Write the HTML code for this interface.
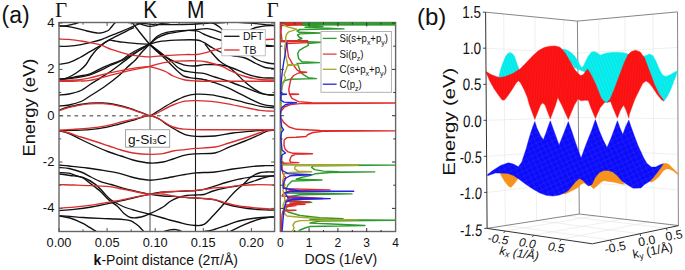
<!DOCTYPE html>
<html><head><meta charset="utf-8"><style>
html,body{margin:0;padding:0;background:#fff;width:685px;height:270px;overflow:hidden;font-family:"Liberation Sans",sans-serif}
</style></head><body>
<svg width="685" height="270" viewBox="0 0 685 270" style="position:absolute;left:0;top:0">
<defs><clipPath id="cpA"><rect x="59" y="22.5" width="215.6" height="209"/></clipPath><clipPath id="cpD"><rect x="280" y="22.5" width="115.6" height="209"/></clipPath></defs>
<g clip-path="url(#cpA)" fill="none" stroke-linejoin="round">
<line x1="150" y1="22" x2="150" y2="232" stroke="#777" stroke-width="1.3"/>
<line x1="195.5" y1="22" x2="195.5" y2="232" stroke="#1a1a1a" stroke-width="1.1"/>
<line x1="59.5" y1="115.7" x2="275" y2="115.7" stroke="#7a7a7a" stroke-width="1.5" stroke-dasharray="3.7,3.8"/>
<path d="M58.6,26.0 C60.0,25.9 64.6,25.9 67.0,25.6 C69.4,25.3 71.0,24.7 73.0,24.2 C75.0,23.7 78.0,22.7 79.0,22.4" stroke="#111" stroke-width="1.35"/>
<path d="M58.6,26.0 C60.0,26.1 63.9,26.0 67.0,26.4 C70.1,26.8 73.7,27.6 77.0,28.4 C80.3,29.2 83.7,30.2 87.0,31.0 C90.3,31.8 94.7,32.7 97.0,33.0 C99.3,33.3 99.7,33.1 101.0,32.9 C102.3,32.7 103.8,32.2 105.0,31.8 C106.2,31.4 107.5,31.0 108.5,30.3 C109.5,29.6 110.1,28.6 111.0,27.5 C111.9,26.4 113.3,24.8 114.0,23.9 C114.7,23.0 115.1,22.6 115.3,22.4" stroke="#111" stroke-width="1.35"/>
<path d="M58.6,46.5 C60.3,46.4 65.3,46.4 69.0,46.1 C72.7,45.8 77.3,45.2 81.0,44.6 C84.7,44.0 87.8,43.1 91.0,42.3 C94.2,41.5 97.5,40.8 100.0,40.0 C102.5,39.2 103.2,38.8 106.1,37.6 C109.0,36.5 113.5,34.6 117.2,33.1 C120.9,31.6 125.0,29.9 128.3,28.5 C131.6,27.1 134.6,25.5 137.2,24.6 C139.8,23.7 142.3,23.5 143.9,23.2 C145.5,22.9 146.5,22.9 147.0,22.9" stroke="#111" stroke-width="1.35"/>
<path d="M58.6,64.4 C60.3,64.1 65.4,63.8 69.0,62.6 C72.6,61.5 76.5,59.3 80.0,57.5 C83.5,55.7 87.3,53.1 90.0,51.6 C92.7,50.1 94.0,49.4 96.0,48.2 C98.0,47.0 100.0,45.7 101.7,44.6 C103.4,43.5 104.6,42.5 106.0,41.8 C107.4,41.1 108.3,40.3 110.0,40.2 C111.7,40.1 113.9,40.9 116.0,41.2 C118.1,41.5 119.3,41.8 122.8,42.2 C126.3,42.6 132.7,43.4 137.2,43.7 C141.7,44.0 147.5,44.1 149.6,44.2" stroke="#111" stroke-width="1.35"/>
<path d="M58.6,79.2 C59.5,79.2 61.8,79.6 64.0,79.0 C66.2,78.4 69.3,77.0 72.0,75.5 C74.7,74.0 77.7,72.0 80.0,70.2 C82.3,68.4 84.2,66.8 86.0,64.5 C87.8,62.2 89.3,58.9 91.0,56.5 C92.7,54.1 94.2,52.1 96.0,50.2 C97.8,48.3 100.0,46.6 101.7,45.2 C103.4,43.8 104.5,42.9 106.0,41.9 C107.5,40.9 108.9,40.0 110.6,39.1 C112.3,38.2 114.1,37.4 116.0,36.4 C117.9,35.4 120.0,34.4 122.0,33.4 C124.0,32.4 126.3,31.2 128.3,30.2 C130.3,29.2 133.1,28.0 134.0,27.6" stroke="#111" stroke-width="1.35"/>
<path d="M128.0,22.5 C130.0,22.6 136.4,22.7 140.0,23.0 C143.6,23.3 146.2,23.9 149.5,24.2 C152.8,24.5 155.8,24.5 160.0,24.6 C164.2,24.7 169.0,24.7 175.0,24.6 C181.0,24.5 190.2,24.3 196.0,24.0 C201.8,23.7 205.2,23.2 210.0,23.0 C214.8,22.8 222.5,22.7 225.0,22.6" stroke="#111" stroke-width="1.35"/>
<path d="M136.0,22.6 C136.7,22.8 138.7,23.3 140.0,23.7 C141.3,24.1 142.4,24.7 144.0,25.1 C145.6,25.6 147.9,26.3 149.8,26.4 C151.8,26.5 154.0,25.9 155.7,25.5 C157.4,25.1 158.4,24.4 160.0,24.0 C161.6,23.6 163.3,23.2 165.0,23.0 C166.7,22.8 169.2,22.7 170.0,22.6" stroke="#111" stroke-width="1.35"/>
<path d="M132.2,22.6 C135.1,26.2 144.3,38.4 149.6,44.2 C154.9,50.0 160.4,54.3 163.9,57.6 C167.4,60.9 168.2,61.9 170.4,64.1 C172.6,66.3 174.8,68.6 176.9,70.6 C179.1,72.5 181.2,74.6 183.3,75.8 C185.5,77.0 187.9,77.3 189.8,77.7 C191.8,78.1 192.6,78.0 195.0,78.3 C197.4,78.6 200.8,78.9 204.1,79.6 C207.4,80.2 213.2,81.8 215.0,82.2" stroke="#111" stroke-width="1.35"/>
<path d="M58.6,79.0 C60.0,78.9 63.9,78.9 67.0,78.5 C70.1,78.1 73.2,77.3 77.0,76.5 C80.8,75.7 86.0,75.3 90.0,73.9 C94.0,72.5 97.3,70.0 101.0,68.3 C104.7,66.6 108.8,65.1 112.2,63.7 C115.6,62.3 118.5,61.6 121.5,60.0 C124.5,58.4 126.8,56.0 130.0,54.0 C133.2,52.0 137.7,49.6 141.0,48.0 C144.3,46.4 148.2,44.8 149.6,44.2" stroke="#111" stroke-width="1.35"/>
<path d="M58.6,79.8 C61.7,79.4 71.8,78.4 77.0,77.6 C82.2,76.8 86.0,76.0 90.0,74.8 C94.0,73.6 97.3,71.9 101.0,70.2 C104.7,68.5 108.5,66.3 112.2,64.6 C115.9,62.9 120.0,61.7 123.3,60.0 C126.6,58.3 128.9,56.4 132.0,54.5 C135.1,52.6 139.1,50.3 142.0,48.6 C144.9,46.9 148.3,44.9 149.6,44.2" stroke="#111" stroke-width="1.35"/>
<path d="M58.6,95.0 C60.3,94.8 65.3,94.8 69.0,94.0 C72.7,93.2 77.5,92.1 81.0,90.5 C84.5,88.9 86.7,86.7 90.0,84.5 C93.3,82.3 97.3,80.0 101.0,77.6 C104.7,75.2 108.5,72.8 112.2,70.2 C115.9,67.6 120.3,64.1 123.3,61.9 C126.3,59.7 127.2,59.0 130.0,57.0 C132.8,55.0 136.7,52.1 140.0,50.0 C143.3,47.9 148.0,45.2 149.6,44.2" stroke="#111" stroke-width="1.35"/>
<path d="M58.6,106.0 C60.3,105.8 65.3,105.8 69.0,105.0 C72.7,104.2 77.5,103.0 81.0,101.5 C84.5,100.0 86.0,98.5 90.0,96.0 C94.0,93.5 99.9,90.0 104.8,86.5 C109.7,83.0 115.9,78.2 119.6,75.0 C123.3,71.8 124.4,69.9 127.0,67.4 C129.6,64.9 132.9,62.6 135.4,60.0 C137.9,57.4 139.6,54.6 142.0,52.0 C144.4,49.4 148.3,45.5 149.6,44.2" stroke="#111" stroke-width="1.35"/>
<path d="M149.6,44.2 C150.9,42.9 154.5,38.2 157.3,36.2 C160.1,34.2 162.5,33.3 166.5,32.4 C170.5,31.5 176.3,30.9 181.3,30.6 C186.3,30.4 192.8,30.3 196.5,30.9 C200.2,31.5 200.9,32.9 203.6,34.0 C206.3,35.1 209.7,36.6 212.8,37.7 C215.9,38.8 217.5,39.5 222.0,40.5 C226.5,41.5 234.0,43.1 240.0,44.0 C246.0,44.9 252.2,45.6 258.0,46.0 C263.8,46.4 271.8,46.2 274.6,46.3" stroke="#111" stroke-width="1.35"/>
<path d="M149.6,44.2 C150.9,43.2 154.5,39.6 157.3,37.9 C160.1,36.2 162.5,35.1 166.5,34.0 C170.5,32.9 176.3,32.0 181.3,31.3 C186.3,30.6 192.2,30.0 196.5,29.6 C200.8,29.2 203.4,28.4 207.0,28.7 C210.6,29.0 214.5,30.2 218.0,31.3 C221.5,32.4 223.5,33.5 228.0,35.0 C232.5,36.5 239.7,38.4 245.0,40.0 C250.3,41.6 255.1,43.5 260.0,44.5 C264.9,45.5 272.2,46.0 274.6,46.3" stroke="#111" stroke-width="1.35"/>
<path d="M149.6,44.2 C151.2,43.8 154.6,42.3 159.0,41.6 C163.4,40.9 169.6,40.5 175.8,40.2 C182.1,39.9 191.9,39.6 196.5,40.0 C201.1,40.4 200.9,41.1 203.6,42.4 C206.3,43.7 209.7,46.3 212.8,48.0 C215.9,49.7 218.8,51.4 222.0,52.6 C225.2,53.9 228.2,54.6 232.0,55.5 C235.8,56.4 241.0,56.7 245.0,58.0 C249.0,59.3 252.7,61.9 256.0,63.5 C259.3,65.1 261.9,66.7 265.0,67.5 C268.1,68.3 273.0,68.4 274.6,68.6" stroke="#111" stroke-width="1.35"/>
<path d="M149.6,44.2 C150.7,45.1 153.8,47.7 156.0,49.5 C158.2,51.3 160.6,53.5 162.6,55.0 C164.6,56.5 166.1,57.2 167.8,58.2 C169.5,59.2 171.1,59.9 173.0,60.8 C174.9,61.7 177.3,62.6 179.5,63.4 C181.7,64.2 183.3,65.0 185.9,65.4 C188.5,65.8 192.0,66.1 195.0,66.0 C198.0,65.9 201.3,65.0 204.1,64.7 C206.9,64.5 208.7,64.4 212.0,64.5 C215.3,64.6 220.7,64.9 224.1,65.5 C227.5,66.1 229.2,66.8 232.5,68.0 C235.8,69.2 240.4,71.5 243.9,72.9 C247.4,74.3 250.4,75.4 253.7,76.2 C257.0,77.0 260.0,77.5 263.5,77.8 C267.0,78.1 272.8,78.0 274.6,78.1" stroke="#111" stroke-width="1.35"/>
<path d="M238.0,22.4 C240.0,22.5 246.7,22.8 250.0,23.0 C253.3,23.2 255.5,23.5 258.0,23.8 C260.5,24.1 262.2,24.3 265.0,24.6 C267.8,24.9 273.0,25.4 274.6,25.6" stroke="#111" stroke-width="1.35"/>
<path d="M250.0,30.0 C251.0,29.6 253.5,28.2 256.0,27.5 C258.5,26.8 261.9,26.1 265.0,25.8 C268.1,25.5 273.0,25.6 274.6,25.6" stroke="#111" stroke-width="1.35"/>
<path d="M212.0,22.4 C213.2,23.2 216.8,24.8 219.5,27.0 C222.2,29.2 224.9,33.8 228.0,35.5 C231.1,37.2 234.7,34.5 237.9,37.2 C241.1,40.0 243.7,48.2 247.0,52.0 C250.3,55.8 254.5,58.2 258.0,60.0 C261.5,61.8 265.2,62.4 268.0,63.0 C270.8,63.6 273.5,63.7 274.6,63.8" stroke="#111" stroke-width="1.35"/>
<path d="M205.0,44.0 C205.9,45.2 207.9,48.2 210.3,51.0 C212.7,53.8 216.4,58.3 219.5,61.0 C222.6,63.7 226.0,65.0 228.7,67.0 C231.4,69.0 233.3,70.6 235.8,72.9 C238.3,75.2 241.2,78.5 243.9,81.0 C246.6,83.5 249.4,85.7 252.1,87.6 C254.8,89.5 257.6,91.3 260.3,92.5 C263.0,93.7 266.0,94.5 268.4,94.9 C270.8,95.3 273.6,95.1 274.6,95.1" stroke="#111" stroke-width="1.35"/>
<path d="M204.1,79.6 C205.8,80.1 210.7,81.4 214.6,82.7 C218.5,84.0 223.2,85.7 227.6,87.6 C231.9,89.5 236.3,91.9 240.7,94.1 C245.0,96.3 249.9,98.8 253.7,100.6 C257.5,102.4 260.0,103.8 263.5,104.7 C267.0,105.7 272.8,106.0 274.6,106.3" stroke="#111" stroke-width="1.35"/>
<path d="M149.6,44.2 C151.0,45.2 155.4,48.5 158.0,50.5 C160.6,52.5 163.1,54.6 165.2,56.3 C167.3,58.0 168.4,58.8 170.4,60.5 C172.4,62.2 174.8,65.0 176.9,66.7 C179.1,68.4 181.2,69.7 183.3,70.6 C185.5,71.5 187.9,71.6 189.8,71.9 C191.8,72.2 192.5,72.4 195.0,72.7 C197.5,73.0 201.5,73.0 204.8,73.7 C208.1,74.4 210.8,75.8 214.6,77.0 C218.4,78.2 223.2,79.5 227.6,81.0 C231.9,82.5 236.3,84.3 240.7,85.9 C245.0,87.5 249.9,89.4 253.7,90.8 C257.5,92.2 260.0,93.4 263.5,94.1 C267.0,94.8 272.8,94.8 274.6,94.9" stroke="#111" stroke-width="1.35"/>
<path d="M58.6,110.3 C59.8,109.9 63.6,108.4 66.0,107.7 C68.3,107.0 70.4,106.5 72.7,106.0 C75.0,105.5 77.2,105.0 80.0,104.5 C82.8,104.0 86.6,103.5 89.3,103.2 C92.0,102.9 93.8,102.8 96.0,102.8 C98.2,102.8 100.5,102.8 102.7,102.9 C104.9,103.0 106.8,103.2 109.0,103.5 C111.2,103.8 113.7,104.2 116.0,104.6 C118.3,105.0 120.4,105.5 122.6,106.1 C124.8,106.7 127.1,107.3 129.3,108.1 C131.5,108.8 133.7,109.8 136.0,110.6 C138.3,111.4 140.7,112.3 143.0,113.1 C145.3,113.9 147.4,115.7 149.6,115.6 C151.8,115.5 153.9,113.5 156.0,112.3 C158.1,111.1 159.2,110.2 162.0,108.5 C164.8,106.8 169.2,104.0 173.0,102.0 C176.8,100.0 181.2,97.6 185.0,96.3 C188.8,95.0 191.6,94.4 196.0,94.2 C200.4,94.0 206.0,94.2 211.3,94.9 C216.6,95.6 222.2,97.0 227.6,98.2 C233.0,99.4 238.4,101.0 243.9,102.3 C249.4,103.6 255.2,105.3 260.3,106.3 C265.4,107.2 272.2,107.7 274.6,108.0" stroke="#111" stroke-width="1.35"/>
<path d="M58.6,130.8 C61.0,130.7 67.6,130.6 72.7,130.4 C77.8,130.2 83.8,130.1 89.3,129.6 C94.8,129.1 100.4,128.5 106.0,127.4 C111.6,126.3 117.7,124.6 122.7,123.2 C127.7,121.8 131.5,120.6 136.0,119.3 C140.5,118.0 145.6,115.6 149.6,115.6 C153.6,115.6 157.3,118.1 160.0,119.5 C162.7,120.9 163.2,122.2 166.0,124.0 C168.8,125.8 173.5,128.6 177.0,130.5 C180.5,132.4 183.8,134.2 187.0,135.2 C190.2,136.2 191.3,136.3 196.0,136.4 C200.7,136.5 208.8,136.6 215.0,136.0 C221.2,135.4 226.7,133.8 233.0,133.0 C239.3,132.2 247.7,131.5 253.0,131.0 C258.3,130.5 261.4,130.4 265.0,130.2 C268.6,130.0 273.0,130.0 274.6,130.0" stroke="#111" stroke-width="1.35"/>
<path d="M58.6,130.6 C60.3,131.1 65.3,132.0 69.0,133.5 C72.7,135.0 76.3,137.2 81.0,139.5 C85.7,141.8 92.3,144.9 97.0,147.0 C101.7,149.1 105.0,150.5 109.0,152.0 C113.0,153.5 117.0,154.7 121.0,156.0 C125.0,157.3 128.2,158.8 133.0,160.0 C137.8,161.2 145.0,162.7 150.0,163.0 C155.0,163.3 159.2,162.7 163.0,162.0 C166.8,161.3 169.3,160.1 173.0,159.0 C176.7,157.9 181.2,156.1 185.0,155.2 C188.8,154.3 191.0,154.2 196.0,153.8 C201.0,153.4 209.5,154.1 215.0,153.0 C220.5,151.9 224.0,149.2 229.0,147.2 C234.0,145.2 240.0,143.0 245.0,141.0 C250.0,139.0 255.3,136.6 259.0,135.0 C262.7,133.4 264.4,132.0 267.0,131.2 C269.6,130.4 273.3,130.4 274.6,130.2" stroke="#111" stroke-width="1.35"/>
<path d="M58.6,165.0 C60.3,165.2 64.3,165.5 69.0,166.0 C73.7,166.5 81.7,167.3 87.0,168.0 C92.3,168.7 95.6,169.1 101.0,170.0 C106.4,170.9 113.7,172.1 119.4,173.4 C125.2,174.7 130.4,176.9 135.5,178.0 C140.6,179.1 145.4,180.1 150.0,180.2 C154.6,180.3 158.7,179.3 163.0,178.6 C167.3,177.9 172.3,176.9 176.0,176.2 C179.7,175.5 181.7,175.1 185.0,174.5 C188.3,173.9 191.0,173.2 196.0,172.8 C201.0,172.4 208.8,172.6 215.0,172.0 C221.2,171.4 226.7,169.9 233.0,169.0 C239.3,168.1 247.7,167.0 253.0,166.4 C258.3,165.8 261.4,165.8 265.0,165.7 C268.6,165.6 273.0,165.6 274.6,165.6" stroke="#111" stroke-width="1.35"/>
<path d="M58.6,167.5 C60.3,167.7 65.3,167.8 69.0,168.5 C72.7,169.2 77.3,170.6 81.0,172.0 C84.7,173.4 87.8,175.4 91.0,177.0 C94.2,178.6 96.7,180.2 100.0,181.4 C103.3,182.7 107.3,183.4 111.0,184.5 C114.7,185.6 118.0,186.7 122.0,187.8 C126.0,188.9 130.1,189.9 134.8,191.0 C139.5,192.1 145.3,193.5 150.0,194.3 C154.7,195.1 159.0,195.7 163.0,196.0 C167.0,196.3 170.0,196.2 174.0,196.4 C178.0,196.7 183.2,197.2 186.8,197.5 C190.4,197.8 192.5,197.8 195.4,198.0 C198.3,198.2 200.7,198.3 204.0,198.6 C207.3,198.9 211.3,199.0 215.0,199.9 C218.7,200.8 222.0,202.8 226.0,204.0 C230.0,205.2 233.8,206.1 238.8,207.0 C243.8,207.9 250.0,208.8 256.0,209.3 C262.0,209.8 271.5,210.0 274.6,210.2" stroke="#111" stroke-width="1.35"/>
<path d="M58.6,172.5 C60.3,172.6 65.9,172.6 69.0,173.2 C72.1,173.8 74.7,175.2 77.0,176.0 C79.3,176.8 81.0,176.9 83.0,178.0 C85.0,179.1 86.2,180.3 89.0,182.5 C91.8,184.7 96.7,188.1 100.0,191.0 C103.3,193.9 105.7,197.1 108.6,199.7 C111.5,202.3 115.0,204.2 117.6,206.5 C120.2,208.8 121.8,211.7 124.0,213.5 C126.2,215.3 127.7,216.9 130.5,217.5 C133.3,218.1 137.8,217.7 141.0,217.0 C144.2,216.3 146.3,215.3 150.0,213.6 C153.7,211.9 159.7,209.0 163.0,207.0 C166.3,205.0 167.1,203.4 169.6,201.8 C172.1,200.2 175.1,198.6 178.0,197.5 C180.9,196.4 183.9,195.8 186.8,195.4 C189.7,195.0 192.5,195.2 195.4,195.0 C198.3,194.8 201.1,195.2 204.0,194.5 C206.9,193.8 209.3,192.1 213.0,191.0 C216.7,189.9 221.7,188.7 226.0,187.8 C230.3,186.9 233.8,186.9 238.8,185.7 C243.8,184.4 251.7,181.7 256.0,180.3 C260.3,178.9 261.5,178.3 264.6,177.5 C267.7,176.7 272.9,175.8 274.6,175.5" stroke="#111" stroke-width="1.35"/>
<path d="M58.6,174.0 C60.5,174.2 65.9,174.9 70.0,175.5 C74.1,176.1 78.7,176.0 83.0,177.5 C87.3,179.0 92.2,182.0 95.7,184.6 C99.2,187.2 101.5,190.5 104.0,193.0 C106.5,195.5 107.8,197.5 110.8,199.7 C113.8,201.9 118.0,204.2 122.0,206.0 C126.0,207.8 130.1,209.0 134.8,210.4 C139.5,211.8 145.3,213.0 150.0,214.3 C154.7,215.6 159.7,217.1 163.0,218.0 C166.3,218.9 167.1,219.3 169.6,220.0 C172.1,220.7 175.1,221.3 178.0,222.0 C180.9,222.7 183.9,223.8 186.8,224.4 C189.7,225.0 192.5,225.5 195.4,225.5 C198.3,225.5 201.1,226.0 204.0,224.4 C206.9,222.8 209.7,219.2 213.0,215.8 C216.3,212.4 220.2,208.0 223.8,204.0 C227.4,200.0 231.3,195.2 234.5,192.0 C237.7,188.8 240.1,187.2 243.0,184.6 C245.9,182.0 249.0,178.4 251.7,176.5 C254.4,174.6 256.6,173.8 259.0,173.0 C261.4,172.2 263.4,172.2 266.0,172.0 C268.6,171.8 273.2,172.0 274.6,172.0" stroke="#111" stroke-width="1.35"/>
<path d="M58.7,210.6 C61.2,210.4 68.5,210.0 74.0,209.4 C79.5,208.8 85.2,208.1 91.4,207.0 C97.6,205.9 105.9,204.1 111.0,203.0 C116.1,201.9 118.0,201.6 122.0,200.7 C126.0,199.8 130.1,198.6 134.8,197.5 C139.5,196.4 145.6,195.2 150.0,194.3 C154.4,193.4 157.0,192.6 161.0,192.2 C165.0,191.8 169.7,191.8 174.0,191.6 C178.3,191.4 183.2,191.2 186.8,191.0 C190.4,190.8 192.5,190.9 195.4,190.6 C198.3,190.3 201.1,190.0 204.0,189.3 C206.9,188.7 209.3,187.8 213.0,186.7 C216.7,185.6 221.7,183.8 226.0,182.5 C230.3,181.2 233.8,180.2 238.8,179.2 C243.8,178.2 250.0,176.9 256.0,176.4 C262.0,175.9 271.5,176.1 274.6,176.0" stroke="#111" stroke-width="1.35"/>
<path d="M58.7,215.8 C60.6,215.9 66.0,216.1 70.0,216.4 C74.0,216.7 77.8,217.2 82.8,217.5 C87.8,217.8 94.6,218.1 100.0,218.3 C105.4,218.6 111.0,218.8 115.0,219.0 C119.0,219.2 121.3,219.3 124.0,219.6 C126.7,219.9 129.0,220.2 131.0,220.9 C133.0,221.6 134.5,222.9 136.0,224.0 C137.5,225.1 138.7,226.0 140.1,227.4 C141.5,228.8 143.9,231.7 144.7,232.5" stroke="#111" stroke-width="1.35"/>
<path d="M58.7,215.8 C60.6,216.2 66.0,216.8 70.0,218.0 C74.0,219.2 78.9,221.3 82.8,223.3 C86.7,225.3 91.3,228.4 93.6,229.8 C95.9,231.2 96.0,231.2 96.5,231.5" stroke="#111" stroke-width="1.35"/>
<path d="M164.0,231.5 C165.0,231.2 168.0,230.1 170.0,229.8 C172.0,229.5 174.0,229.3 176.0,229.6 C178.0,229.9 181.0,231.2 182.0,231.5" stroke="#111" stroke-width="1.35"/>
<path d="M204.0,231.5 C205.5,231.2 209.3,230.8 213.0,229.8 C216.7,228.8 221.7,227.0 226.0,225.5 C230.3,224.0 233.8,222.2 238.8,221.0 C243.8,219.8 250.0,218.7 256.0,218.0 C262.0,217.3 271.5,217.0 274.6,216.8" stroke="#111" stroke-width="1.35"/>
<path d="M230.0,231.5 C232.5,230.3 240.0,226.5 245.0,224.4 C250.0,222.3 255.1,220.3 260.0,219.0 C264.9,217.7 272.2,217.2 274.6,216.8" stroke="#111" stroke-width="1.35"/>
<path d="M58.6,39.0 C60.3,39.1 65.3,39.1 69.0,39.4 C72.7,39.7 77.5,40.5 81.0,41.0 C84.5,41.5 86.7,41.9 90.0,42.6 C93.3,43.3 97.3,43.9 101.0,45.1 C104.7,46.3 107.7,48.1 112.0,49.6 C116.3,51.1 122.0,53.1 127.0,54.2 C132.0,55.3 138.1,56.0 141.9,56.4 C145.7,56.8 145.5,57.0 149.6,56.9 C153.7,56.8 160.6,55.9 166.5,55.5 C172.4,55.1 180.0,54.8 185.0,54.6 C190.0,54.4 193.4,54.7 196.5,54.5 C199.6,54.3 200.9,53.9 203.6,53.2 C206.3,52.5 209.7,51.4 212.8,50.5 C215.9,49.6 217.5,49.1 222.0,47.9 C226.5,46.6 234.0,44.3 240.0,43.0 C246.0,41.7 252.2,40.6 258.0,40.0 C263.8,39.4 271.8,39.3 274.6,39.2" stroke="#da2e2e" stroke-width="1.35"/>
<path d="M58.6,80.4 C61.7,80.3 71.8,80.4 77.0,80.0 C82.2,79.6 84.8,78.9 90.0,77.8 C95.2,76.7 102.3,74.6 108.5,73.2 C114.7,71.8 121.4,70.4 127.0,69.4 C132.6,68.4 138.1,67.6 141.9,67.1 C145.7,66.6 148.3,66.6 149.6,66.5" stroke="#da2e2e" stroke-width="1.35"/>
<path d="M58.6,81.4 C61.7,81.3 71.8,81.2 77.0,81.0 C82.2,80.8 84.8,81.3 90.0,80.4 C95.2,79.5 102.3,77.3 108.5,75.8 C114.7,74.3 121.8,72.4 127.0,71.2 C132.2,70.0 136.2,69.2 140.0,68.4 C143.8,67.6 148.0,66.8 149.6,66.5" stroke="#da2e2e" stroke-width="1.35"/>
<path d="M149.6,66.5 C151.8,65.9 158.4,63.8 162.8,62.9 C167.2,62.0 170.2,61.6 175.8,61.2 C181.4,60.9 191.3,60.7 196.5,60.8 C201.7,60.9 202.8,61.1 207.0,62.0 C211.2,62.9 218.0,64.9 222.0,66.4 C226.0,67.9 227.2,69.3 231.0,71.0 C234.8,72.7 240.2,75.1 245.0,76.5 C249.8,77.9 255.1,78.9 260.0,79.5 C264.9,80.1 272.2,79.9 274.6,80.0" stroke="#da2e2e" stroke-width="1.35"/>
<path d="M149.6,66.5 C151.2,67.0 156.2,68.3 159.0,69.2 C161.8,70.1 164.2,70.9 166.5,72.0 C168.8,73.1 169.9,74.7 173.0,76.0 C176.1,77.3 181.2,79.2 185.0,80.0 C188.8,80.8 191.0,80.8 196.0,81.0 C201.0,81.2 201.9,81.2 215.0,81.2 C228.1,81.2 264.7,81.2 274.6,81.2" stroke="#da2e2e" stroke-width="1.35"/>
<path d="M58.6,110.9 C59.8,110.5 63.6,109.1 66.0,108.4 C68.3,107.7 70.4,107.2 72.7,106.7 C75.0,106.2 77.2,105.7 80.0,105.2 C82.8,104.7 86.6,104.2 89.3,103.9 C92.0,103.6 93.8,103.5 96.0,103.5 C98.2,103.5 100.5,103.5 102.7,103.6 C104.9,103.7 106.8,103.9 109.0,104.2 C111.2,104.5 113.7,104.9 116.0,105.3 C118.3,105.7 120.4,106.2 122.6,106.8 C124.8,107.4 127.1,108.0 129.3,108.7 C131.5,109.4 133.7,110.2 136.0,111.0 C138.3,111.8 140.7,112.5 143.0,113.3 C145.3,114.1 147.4,115.5 149.6,115.6 C151.8,115.7 154.1,114.6 156.0,113.8 C157.9,113.0 158.2,112.5 161.0,111.0 C163.8,109.5 169.0,106.6 173.0,105.0 C177.0,103.4 181.2,101.9 185.0,101.2 C188.8,100.5 191.6,100.6 196.0,100.6 C200.4,100.6 206.0,100.9 211.3,101.4 C216.6,102.0 222.2,102.9 227.6,103.9 C233.0,104.9 238.4,106.1 243.9,107.2 C249.4,108.3 255.2,109.7 260.3,110.4 C265.4,111.1 272.2,111.1 274.6,111.2" stroke="#da2e2e" stroke-width="1.35"/>
<path d="M58.6,130.2 C61.0,130.1 67.6,129.7 72.7,129.4 C77.8,129.1 83.8,128.8 89.3,128.2 C94.8,127.6 100.4,126.9 106.0,125.8 C111.6,124.7 117.7,122.9 122.7,121.7 C127.7,120.5 131.5,119.6 136.0,118.6 C140.5,117.6 145.4,115.3 149.6,115.6 C153.8,115.9 157.1,118.3 161.0,120.2 C164.9,122.1 169.0,125.5 173.0,127.0 C177.0,128.5 181.2,128.8 185.0,129.2 C188.8,129.6 191.0,129.6 196.0,129.7 C201.0,129.8 201.9,129.7 215.0,129.7 C228.1,129.7 264.7,129.7 274.6,129.7" stroke="#da2e2e" stroke-width="1.35"/>
<path d="M58.6,130.2 C60.3,130.7 65.3,131.9 69.0,133.0 C72.7,134.1 76.3,135.5 81.0,137.0 C85.7,138.5 92.3,140.5 97.0,142.0 C101.7,143.5 105.0,144.7 109.0,146.0 C113.0,147.3 117.0,148.8 121.0,150.0 C125.0,151.2 128.2,152.3 133.0,153.0 C137.8,153.7 145.0,154.3 150.0,154.4 C155.0,154.5 159.2,154.2 163.0,153.6 C166.8,153.0 169.3,151.7 173.0,151.0 C176.7,150.3 181.2,150.0 185.0,149.6 C188.8,149.2 191.0,148.8 196.0,148.4 C201.0,148.0 209.5,147.9 215.0,147.0 C220.5,146.1 224.0,144.5 229.0,143.0 C234.0,141.5 240.0,139.7 245.0,138.0 C250.0,136.3 255.3,134.3 259.0,133.0 C262.7,131.7 264.4,130.9 267.0,130.4 C269.6,129.9 273.3,129.9 274.6,129.8" stroke="#da2e2e" stroke-width="1.35"/>
<path d="M58.7,184.6 C61.2,184.7 68.5,184.8 74.0,185.0 C79.5,185.2 85.6,185.4 91.4,185.7 C97.2,186.0 103.9,186.1 109.0,186.7 C114.1,187.2 117.7,188.2 122.0,189.0 C126.3,189.8 130.1,190.6 134.8,191.5 C139.5,192.4 145.3,194.2 150.0,194.3 C154.7,194.4 159.0,192.7 163.0,192.2 C167.0,191.7 170.0,191.6 174.0,191.4 C178.0,191.2 183.2,191.1 186.8,190.9 C190.4,190.8 192.5,190.8 195.4,190.5 C198.3,190.2 200.7,189.8 204.0,189.4 C207.3,189.0 211.3,188.3 215.0,187.9 C218.7,187.5 222.0,187.6 226.0,187.2 C230.0,186.8 233.8,186.1 238.8,185.7 C243.8,185.3 250.0,184.8 256.0,184.7 C262.0,184.6 271.5,184.9 274.6,185.0" stroke="#da2e2e" stroke-width="1.35"/>
<path d="M58.7,208.2 C61.2,208.0 68.5,207.7 74.0,207.2 C79.5,206.7 85.2,206.1 91.4,205.2 C97.6,204.3 105.9,202.7 111.0,201.8 C116.1,200.9 118.0,200.6 122.0,199.8 C126.0,199.0 130.1,198.1 134.8,197.2 C139.5,196.3 145.3,194.8 150.0,194.3 C154.7,193.8 159.0,193.7 163.0,194.0 C167.0,194.3 170.0,195.6 174.0,196.2 C178.0,196.8 183.2,197.1 186.8,197.4 C190.4,197.7 192.5,197.7 195.4,197.9 C198.3,198.1 200.7,198.2 204.0,198.5 C207.3,198.8 211.3,198.8 215.0,199.6 C218.7,200.3 222.0,201.9 226.0,203.0 C230.0,204.1 233.8,205.2 238.8,206.0 C243.8,206.8 250.0,207.4 256.0,208.0 C262.0,208.6 271.5,209.1 274.6,209.3" stroke="#da2e2e" stroke-width="1.35"/>
</g>
<rect x="59" y="22.5" width="215.6" height="209" fill="none" stroke="#666" stroke-width="1.4"/>
<g stroke="#555" stroke-width="1"><line x1="59" y1="208.4" x2="62.5" y2="208.4"/><line x1="274.6" y1="208.4" x2="271.1" y2="208.4"/><line x1="59" y1="185.2" x2="61.2" y2="185.2"/><line x1="274.6" y1="185.2" x2="272.4" y2="185.2"/><line x1="59" y1="162.0" x2="62.5" y2="162.0"/><line x1="274.6" y1="162.0" x2="271.1" y2="162.0"/><line x1="59" y1="138.9" x2="61.2" y2="138.9"/><line x1="274.6" y1="138.9" x2="272.4" y2="138.9"/><line x1="59" y1="115.7" x2="62.5" y2="115.7"/><line x1="274.6" y1="115.7" x2="271.1" y2="115.7"/><line x1="59" y1="92.5" x2="61.2" y2="92.5"/><line x1="274.6" y1="92.5" x2="272.4" y2="92.5"/><line x1="59" y1="69.4" x2="62.5" y2="69.4"/><line x1="274.6" y1="69.4" x2="271.1" y2="69.4"/><line x1="59" y1="46.2" x2="61.2" y2="46.2"/><line x1="274.6" y1="46.2" x2="272.4" y2="46.2"/><line x1="59" y1="23.0" x2="62.5" y2="23.0"/><line x1="274.6" y1="23.0" x2="271.1" y2="23.0"/><line x1="59.0" y1="231.5" x2="59.0" y2="228.0"/><line x1="59.0" y1="22.5" x2="59.0" y2="26.0"/><line x1="83.0" y1="231.5" x2="83.0" y2="229.3"/><line x1="83.0" y1="22.5" x2="83.0" y2="24.7"/><line x1="107.1" y1="231.5" x2="107.1" y2="228.0"/><line x1="107.1" y1="22.5" x2="107.1" y2="26.0"/><line x1="131.2" y1="231.5" x2="131.2" y2="229.3"/><line x1="131.2" y1="22.5" x2="131.2" y2="24.7"/><line x1="155.2" y1="231.5" x2="155.2" y2="228.0"/><line x1="155.2" y1="22.5" x2="155.2" y2="26.0"/><line x1="179.2" y1="231.5" x2="179.2" y2="229.3"/><line x1="179.2" y1="22.5" x2="179.2" y2="24.7"/><line x1="203.3" y1="231.5" x2="203.3" y2="228.0"/><line x1="203.3" y1="22.5" x2="203.3" y2="26.0"/><line x1="227.4" y1="231.5" x2="227.4" y2="229.3"/><line x1="227.4" y1="22.5" x2="227.4" y2="24.7"/><line x1="251.4" y1="231.5" x2="251.4" y2="228.0"/><line x1="251.4" y1="22.5" x2="251.4" y2="26.0"/></g>
<rect x="221.7" y="29.7" width="43.6" height="26.1" fill="#fff" stroke="#bbb" stroke-width="0.9"/>
<line x1="224.2" y1="36.3" x2="239.5" y2="36.3" stroke="#111" stroke-width="1.3"/>
<line x1="224.2" y1="50" x2="239.5" y2="50" stroke="#da2e2e" stroke-width="1.3"/>
<text x="243" y="40.2" font-family="Liberation Sans" font-size="10.5" fill="#111">DFT</text>
<text x="243" y="53.9" font-family="Liberation Sans" font-size="10.5" fill="#111">TB</text>
<rect x="125.5" y="129.7" width="44.2" height="17.5" fill="#fff" stroke="#999" stroke-width="0.9"/>
<text x="128" y="143.5" font-family="Liberation Sans" font-size="13.7" fill="#111">g-Si<tspan font-size="8">3</tspan>C</text>
<text x="1.5" y="23.3" font-family="Liberation Sans" font-size="23" fill="#111">(a)</text>
<text x="55" y="16.9" font-family="Liberation Serif" font-size="21" fill="#111">&#915;</text>
<text x="266.6" y="16.9" font-family="Liberation Serif" font-size="21" fill="#111">&#915;</text>
<text transform="translate(143.3,17.6) scale(1,1.1)" font-family="Liberation Sans" font-size="21" fill="#111">K</text>
<text transform="translate(187,17.6) scale(1,1.1)" font-family="Liberation Sans" font-size="21" fill="#111">M</text>
<text x="54.4" y="26.9" text-anchor="end" font-family="Liberation Sans" font-size="13" fill="#111">4</text>
<text x="54.4" y="73.3" text-anchor="end" font-family="Liberation Sans" font-size="13" fill="#111">2</text>
<text x="54.4" y="119.6" text-anchor="end" font-family="Liberation Sans" font-size="13" fill="#111">0</text>
<text x="54.4" y="165.9" text-anchor="end" font-family="Liberation Sans" font-size="13" fill="#111">-2</text>
<text x="54.4" y="212.3" text-anchor="end" font-family="Liberation Sans" font-size="13" fill="#111">-4</text>
<text x="59.0" y="247" text-anchor="middle" font-family="Liberation Sans" font-size="12.8" fill="#111">0.00</text>
<text x="107.1" y="247" text-anchor="middle" font-family="Liberation Sans" font-size="12.8" fill="#111">0.05</text>
<text x="155.2" y="247" text-anchor="middle" font-family="Liberation Sans" font-size="12.8" fill="#111">0.10</text>
<text x="203.3" y="247" text-anchor="middle" font-family="Liberation Sans" font-size="12.8" fill="#111">0.15</text>
<text x="251.4" y="247" text-anchor="middle" font-family="Liberation Sans" font-size="12.8" fill="#111">0.20</text>
<text x="93.6" y="264.9" font-family="Liberation Sans" font-size="14" fill="#111"><tspan font-weight="bold">k</tspan>-Point distance (2&#960;/&#197;)</text>
<text transform="translate(35.2,156.6) rotate(-90)" font-family="Liberation Sans" font-size="16.5" fill="#111" textLength="98" lengthAdjust="spacingAndGlyphs">Energy (eV)</text>
<rect x="280.3" y="22.5" width="115.3" height="209" fill="none" stroke="#666" stroke-width="1.4"/>
<text x="280.3" y="246.7" text-anchor="middle" font-family="Liberation Sans" font-size="12" fill="#111">0</text>
<text x="309.1" y="246.7" text-anchor="middle" font-family="Liberation Sans" font-size="12" fill="#111">1</text>
<text x="337.9" y="246.7" text-anchor="middle" font-family="Liberation Sans" font-size="12" fill="#111">2</text>
<text x="366.7" y="246.7" text-anchor="middle" font-family="Liberation Sans" font-size="12" fill="#111">3</text>
<text x="395.5" y="246.7" text-anchor="middle" font-family="Liberation Sans" font-size="12" fill="#111">4</text>
<g clip-path="url(#cpD)"><rect x="302" y="22.5" width="94" height="3" fill="#2e9a2e"/><rect x="340" y="22.5" width="56" height="2.6" fill="#58b458"/><rect x="280.3" y="22.5" width="22" height="2.8" fill="#e02a2a"/><rect x="281" y="40" width="27" height="2.4" fill="#e02a2a"/></g>
<g clip-path="url(#cpD)" fill="none" stroke-linejoin="round" stroke-width="1.4">
<polyline points="300.0,22.8 395.6,23.2 395.6,24.6 300.0,24.6 305.0,25.2 323.0,26.5 305.0,27.2 344.0,28.9 300.0,29.5 297.0,31.0 299.0,32.3 320.0,33.0 300.0,33.8 297.5,35.0 299.0,37.0 302.0,38.5 298.0,40.0 300.0,41.5 321.0,42.2 308.0,43.5 308.3,45.4 303.4,47.9 299.4,50.3 297.7,53.6 298.6,58.5 301.8,61.7 319.5,62.6 297.0,63.5 298.6,66.5 300.2,71.4 303.4,74.7 308.3,77.6 316.5,78.6 290.0,79.2 285.0,80.5 283.0,83.0 281.5,90.0 281.0,100.0 280.6,110.0 280.4,115.7 280.6,125.0 281.0,140.0 281.5,160.0 282.0,164.6 395.6,165.1 313.0,165.9 311.6,167.4 314.6,169.6 323.4,171.1 338.3,171.7 374.7,171.9 330.0,172.5 315.0,173.8 310.0,175.6 300.0,177.8 296.0,179.3 322.0,180.0 292.0,181.0 288.0,185.0 286.0,189.0 287.0,193.0 352.0,193.9 300.0,194.8 290.0,196.5 287.0,200.0 311.7,202.4 290.0,204.0 286.0,208.0 288.0,212.0 300.0,215.5 320.0,217.8 343.0,218.8 310.0,219.5 395.6,220.2 320.0,221.0 310.0,223.0 365.0,225.5 310.0,226.5 305.0,228.0 300.0,230.0 298.0,232.0" stroke="#2e9a2e"/>
<polyline points="280.3,22.6 302.0,23.2 302.0,24.8 281.5,25.5 281.0,32.0 282.0,40.5 308.0,41.3 308.0,42.6 287.0,43.6 287.5,50.0 288.5,57.0 290.4,60.0 292.0,63.3 294.5,66.5 297.0,69.8 300.2,71.8 306.7,72.2 298.6,73.0 293.7,75.5 291.5,78.0 290.4,81.2 288.8,89.3 289.4,93.8 298.6,94.2 289.8,94.6 292.0,98.3 298.6,101.6 311.6,102.8 395.6,103.0 311.6,103.5 300.2,103.6 290.4,104.6 284.5,107.0 281.5,110.5 280.4,114.0 280.4,115.7 281.0,118.0 283.6,122.4 289.1,127.0 296.5,129.3 320.0,130.5 395.6,130.9 323.0,131.4 313.0,132.5 308.0,134.5 306.0,136.5 296.0,137.3 287.0,137.6 284.2,140.0 284.0,145.0 285.0,149.0 287.5,151.6 293.0,153.3 312.5,153.7 296.0,154.2 291.5,156.0 290.5,158.0 289.7,160.5 291.0,162.2 298.7,162.6 283.0,163.2 282.0,167.0 282.5,172.0 284.0,176.0 286.0,177.5 283.0,180.0 283.0,186.0 286.0,188.8 330.0,189.9 290.0,190.6 284.0,193.0 282.0,196.0 323.0,198.5 290.0,199.5 285.0,201.0 310.0,202.0 290.0,203.0 305.0,204.2 285.0,205.0 296.0,205.6 284.0,207.0 285.0,210.0 296.0,210.3 283.0,211.0 282.0,215.0 281.5,225.0 281.0,232.0" stroke="#e02a2a"/>
<polyline points="281.0,22.6 283.0,24.5 285.5,25.8 288.0,27.0 292.0,28.0 296.9,29.1 292.0,30.8 289.0,31.7 287.3,33.3 286.0,35.7 285.7,38.9 285.8,42.0 285.0,45.4 284.4,48.7 285.2,53.6 286.3,58.5 287.2,62.0 287.6,64.4 298.6,64.9 287.5,65.6 286.0,70.0 284.0,75.0 285.5,78.0 283.9,80.9 282.3,83.0 281.5,92.6 281.0,104.0 280.6,115.7 281.0,130.0 281.5,150.0 282.0,160.0 281.0,164.7 358.0,165.3 295.3,165.8 294.6,168.9 298.3,171.1 311.6,171.8 290.0,172.5 284.0,174.0 283.0,180.0 285.0,185.0 283.0,190.0 284.0,195.0 285.0,200.0 283.0,205.0 283.5,210.0 285.0,214.0 287.0,216.0 300.0,217.2 315.0,218.2 330.0,219.4 358.0,219.9 300.0,220.6 295.0,222.0 293.0,225.0 294.0,228.0 292.0,232.0" stroke="#a9a62a"/>
<polyline points="287.0,42.0 286.2,47.0 285.0,55.0 283.6,63.0 282.4,71.0 281.6,78.0 281.0,85.0 280.7,93.8 286.5,94.2 281.0,94.6 280.7,100.0 284.0,102.1 296.5,102.8 291.0,103.3 285.4,104.8 281.7,107.6 280.4,112.0 280.3,115.7 280.8,119.6 281.7,127.0 283.6,129.8 281.7,131.7 280.8,136.3 281.0,140.0 282.0,150.0 285.5,153.0 282.0,155.0 281.0,160.0 281.5,170.0 288.0,173.6 311.0,174.8 290.0,175.8 286.0,178.0 284.0,182.0 283.0,188.0 300.0,191.0 353.7,191.2 290.0,191.8 285.0,193.0 288.0,197.8 330.3,198.6 292.0,199.5 286.0,202.0 284.0,210.0 283.0,220.0 282.0,232.0" stroke="#2424e0"/>
</g>
<rect x="321" y="31.5" width="70.4" height="60.8" fill="#fff" stroke="#aaa" stroke-width="0.9"/>
<line x1="322.8" y1="38.4" x2="336.6" y2="38.4" stroke="#2e9a2e" stroke-width="1.3"/>
<text x="339.6" y="42.2" font-family="Liberation Sans" font-size="10.4" fill="#111" textLength="48.3" lengthAdjust="spacingAndGlyphs">Si(s+p<tspan font-size="7.5" dy="2.6">x</tspan><tspan dy="-2.6">+p</tspan><tspan font-size="7.5" dy="2.6">y</tspan><tspan dy="-2.6">)</tspan></text>
<line x1="322.8" y1="54.1" x2="336.6" y2="54.1" stroke="#e04040" stroke-width="1.3"/>
<text x="339.6" y="57.9" font-family="Liberation Sans" font-size="10.4" fill="#111" textLength="24.0" lengthAdjust="spacingAndGlyphs">Si(p<tspan font-size="7.5" dy="2.6">z</tspan><tspan dy="-2.6">)</tspan></text>
<line x1="322.8" y1="69.3" x2="336.6" y2="69.3" stroke="#a9a62a" stroke-width="1.3"/>
<text x="339.6" y="73.1" font-family="Liberation Sans" font-size="10.4" fill="#111" textLength="47.2" lengthAdjust="spacingAndGlyphs">C(s+p<tspan font-size="7.5" dy="2.6">x</tspan><tspan dy="-2.6">+p</tspan><tspan font-size="7.5" dy="2.6">y</tspan><tspan dy="-2.6">)</tspan></text>
<line x1="322.8" y1="84.2" x2="336.6" y2="84.2" stroke="#2424e0" stroke-width="1.3"/>
<text x="339.6" y="88.0" font-family="Liberation Sans" font-size="10.4" fill="#111" textLength="22.2" lengthAdjust="spacingAndGlyphs">C(p<tspan font-size="7.5" dy="2.6">z</tspan><tspan dy="-2.6">)</tspan></text>
<g stroke="#e8e8e8" stroke-width="0.7"><line x1="485.9" y1="48.2" x2="577.7" y2="53.2"/><line x1="577.7" y1="53.2" x2="677.5" y2="47.5"/><line x1="486.1" y1="84.3" x2="578.0" y2="85.4"/><line x1="578.0" y1="85.4" x2="677.6" y2="83.1"/><line x1="486.4" y1="120.3" x2="578.3" y2="117.5"/><line x1="578.3" y1="117.5" x2="677.8" y2="118.7"/><line x1="486.6" y1="156.3" x2="578.7" y2="149.7"/><line x1="578.7" y1="149.7" x2="678.0" y2="154.3"/><line x1="486.9" y1="192.4" x2="579.0" y2="181.8"/><line x1="579.0" y1="181.8" x2="678.1" y2="189.9"/><line x1="503.7" y1="14.0" x2="505.3" y2="225.6"/><line x1="534.9" y1="17.0" x2="536.6" y2="220.7"/><line x1="563.6" y1="19.8" x2="565.5" y2="216.2"/><line x1="598.7" y1="19.1" x2="600.4" y2="216.4"/><line x1="624.8" y1="16.7" x2="626.2" y2="219.5"/><line x1="653.0" y1="14.1" x2="654.2" y2="222.7"/><line x1="504.8" y1="231.0" x2="595.9" y2="215.9"/><line x1="533.4" y1="235.2" x2="622.9" y2="219.1"/><line x1="561.2" y1="239.2" x2="649.0" y2="222.1"/><line x1="610.4" y1="240.0" x2="506.5" y2="225.4"/><line x1="639.6" y1="233.7" x2="537.8" y2="220.5"/><line x1="665.9" y1="228.1" x2="566.0" y2="216.1"/></g>
<g stroke="#777" stroke-width="0.9" fill="none"><polyline points="485.6,12.2 577.4,21.1 677.3,11.9"/><line x1="577.4" y1="21.1" x2="579.3" y2="214"/><line x1="677.5" y1="11.9" x2="678.4" y2="225.5"/><polyline points="487.1,228.4 579.3,214 678.3,225.5"/></g>
<defs><pattern id="pR" width="2.7" height="20" patternUnits="userSpaceOnUse" patternTransform="rotate(4)"><rect width="2.7" height="20" fill="#fe1414"/><rect width="0.45" height="20" fill="#d80808" opacity="0.55"/></pattern><pattern id="pB" width="7" height="7" patternUnits="userSpaceOnUse" patternTransform="rotate(20)"><rect width="7" height="7" fill="#0c0cfa"/><path d="M0,0L7,7M7,0L0,7" stroke="#5050ff" stroke-width="0.4" opacity="0.6"/></pattern><pattern id="pC" width="3" height="20" patternUnits="userSpaceOnUse" patternTransform="rotate(-20)"><rect width="3" height="20" fill="#0aeeee"/><rect width="0.5" height="20" fill="#00c8d0" opacity="0.6"/></pattern></defs>
<polygon points="498.5,78.0 501.0,68.0 503.5,61.3 505.5,56.5 507.2,53.9 510.0,52.4 512.8,53.9 514.5,56.5 515.6,59.5 517.4,65.0 519.5,70.0 512.0,76.0 505.0,78.0" fill="url(#pC)" stroke="#0aeeee" stroke-width="0.4" stroke-linejoin="round"/>
<polygon points="562.0,49.0 565.9,49.6 568.9,51.1 571.9,53.3 574.8,56.3 577.8,60.7 580.0,65.2 581.5,67.4 583.0,66.7 585.2,62.2 588.1,56.3 591.1,52.6 593.3,51.6 595.6,51.9 597.8,53.3 600.4,55.3 603.2,53.9 606.9,53.0 612.5,52.3 618.0,52.2 623.6,52.8 627.2,53.7 631.0,56.0 628.0,62.0 624.0,72.0 620.0,82.0 616.0,92.0 611.0,101.0 606.5,102.6 604.5,102.4 603.0,100.0 600.9,97.0 595.7,84.1 590.0,74.0 585.0,72.0 575.0,68.0 565.0,55.0" fill="url(#pC)" stroke="#0aeeee" stroke-width="0.4" stroke-linejoin="round"/>
<polygon points="643.0,56.0 646.1,55.6 649.4,54.0 652.8,55.4 656.1,61.5 659.4,69.5 662.8,75.3 666.1,76.6 670.6,74.4 674.0,72.5 677.4,70.8 676.0,76.0 673.9,81.1 670.6,90.0 667.2,96.7 663.9,101.3 658.0,92.0 650.0,75.0" fill="url(#pC)" stroke="#0aeeee" stroke-width="0.4" stroke-linejoin="round"/>
<polygon points="499.5,172.5 502.0,177.0 504.4,180.9 508.3,186.1 510.9,187.4 513.5,184.8 517.4,179.6 519.5,175.5 510.0,172.0" fill="#f7921c" stroke="#f7921c" stroke-width="0.4" stroke-linejoin="round"/>
<polygon points="564.0,193.5 569.8,187.0 575.7,180.0 579.4,177.8 582.4,179.3 585.4,182.3 588.3,185.2 592.0,183.7 595.0,177.1 599.4,171.9 603.9,169.7 608.3,169.7 612.8,171.2 617.2,174.9 621.7,180.0 624.6,184.4 620.2,183.8 614.3,182.2 608.3,181.4 603.9,180.7 600.9,182.2 596.5,186.6 593.5,188.8 590.6,185.9 586.1,184.4 583.9,182.9 580.9,184.4 577.2,188.1 571.3,191.1 565.4,194.0" fill="#f7921c" stroke="#f7921c" stroke-width="0.4" stroke-linejoin="round"/>
<polygon points="649.8,181.5 652.8,178.5 657.2,172.5 660.9,167.3 663.1,163.6 666.1,163.2 669.0,164.6 673.5,169.0 678.2,173.6 677.5,174.6 673.5,171.1 669.0,168.9 666.1,168.9 663.1,171.1 658.7,177.0 654.2,180.7 651.3,182.2" fill="#f7921c" stroke="#f7921c" stroke-width="0.4" stroke-linejoin="round"/>
<polygon points="486.1,71.5 490.6,74.3 496.1,76.5 499.8,77.6 505.4,76.5 512.8,73.4 520.2,68.7 524.0,65.0 528.0,60.8 533.0,55.5 538.6,50.6 544.1,47.6 549.7,46.2 555.2,45.9 560.0,47.2 563.0,50.2 565.9,54.1 568.9,59.3 571.9,64.4 574.8,69.6 577.8,73.3 580.7,75.6 583.0,74.8 585.2,71.9 587.4,68.9 589.6,71.9 592.0,76.5 595.7,84.1 600.9,97.0 603.5,101.0 605.2,101.8 600.0,108.0 595.4,118.4 591.0,108.0 588.3,100.5 585.0,100.2 581.1,100.8 578.0,99.0 574.4,105.0 568.3,119.6 561.7,105.0 557.8,97.6 555.6,105.0 550.3,119.0 545.0,105.0 542.8,103.0 540.6,105.0 534.8,119.4 529.4,105.0 527.3,97.3 524.0,89.5 520.6,82.9 518.4,80.8 516.2,82.9 512.8,88.4 508.4,95.1 505.0,99.6 503.3,100.3 501.7,99.6 498.4,95.1 493.9,88.4 489.5,80.6 486.3,73.0" fill="url(#pR)" stroke="#fe1414" stroke-width="0.4" stroke-linejoin="round"/>
<polygon points="606.8,102.6 610.0,99.2 613.7,90.8 617.3,81.1 620.9,71.5 624.5,61.9 628.1,54.6 631.5,51.6 635.6,50.2 640.2,51.9 644.8,58.3 648.3,67.8 651.7,76.7 655.0,85.6 659.4,94.4 662.8,98.9 663.9,101.1 661.7,100.0 657.2,94.4 652.8,87.8 649.4,83.3 646.1,81.1 642.8,83.3 639.4,90.0 635.0,98.9 633.1,104.1 629.3,114.4 628.8,118.2 626.0,110.0 623.6,105.2 620.5,110.0 617.4,118.2 613.0,108.0 610.6,101.5" fill="url(#pR)" stroke="#fe1414" stroke-width="0.4" stroke-linejoin="round"/>
<polygon points="487.6,174.4 492.8,170.6 500.6,165.4 508.3,162.8 513.5,164.1 518.3,166.7 521.7,162.2 523.9,155.6 526.1,148.9 528.3,141.1 530.6,133.3 532.8,126.7 534.8,121.6 536.9,128.1 540.7,135.9 543.3,139.8 545.9,133.3 548.5,125.6 550.3,120.8 553.9,130.7 559.1,145.0 564.3,132.0 568.3,121.6 572.0,132.0 575.9,143.7 581.1,158.0 586.3,143.7 591.5,130.7 595.4,119.6 599.3,130.7 603.1,139.8 607.0,147.6 610.9,138.5 614.8,128.1 617.4,120.7 620.0,128.0 622.8,134.6 625.5,127.0 628.8,120.1 630.6,125.6 634.4,135.9 638.3,146.3 641.0,152.0 643.5,157.5 646.8,163.3 651.3,167.0 655.7,167.0 660.1,164.8 663.1,163.8 663.1,164.3 660.9,167.5 657.2,172.5 652.8,178.3 649.8,181.2 644.5,184.6 640.9,188.0 633.1,188.2 625.4,183.5 621.7,180.7 617.2,175.6 612.8,171.9 608.3,170.4 603.9,170.4 599.4,172.6 595.0,177.8 592.0,184.4 588.3,185.9 585.4,183.0 582.4,180.0 579.4,178.5 575.7,181.5 572.0,186.0 568.3,190.6 563.9,193.3 559.4,195.0 552.8,196.1 546.1,195.3 539.4,192.8 532.8,188.9 526.1,184.4 519.4,179.4 515.0,176.5 513.5,175.5 508.0,173.5 500.6,173.1 495.4,173.1 487.6,175.7" fill="url(#pB)" stroke="#0c0cfa" stroke-width="0.4" stroke-linejoin="round"/>
<g stroke="#333" stroke-width="1" fill="none"><line x1="485.6" y1="12.2" x2="487.1" y2="228.4"/><polyline points="487.1,228.4 592.4,243.8 678.6,225.6"/></g>
<g stroke="#333" stroke-width="0.9"><line x1="482.8" y1="12.2" x2="485.6" y2="12.2"/><line x1="483.1" y1="48.2" x2="485.9" y2="48.2"/><line x1="483.3" y1="84.3" x2="486.1" y2="84.3"/><line x1="483.6" y1="120.3" x2="486.4" y2="120.3"/><line x1="483.8" y1="156.3" x2="486.6" y2="156.3"/><line x1="484.1" y1="192.4" x2="486.9" y2="192.4"/><line x1="484.3" y1="228.4" x2="487.1" y2="228.4"/><line x1="505.1" y1="231.1" x2="503.6" y2="233.1"/><line x1="533.7" y1="235.2" x2="532.2" y2="237.2"/><line x1="561.3" y1="239.3" x2="559.8" y2="241.3"/><line x1="610.6" y1="240.0" x2="611.1" y2="242.2"/><line x1="640.1" y1="233.8" x2="640.6" y2="236.0"/><line x1="666.5" y1="228.2" x2="667.0" y2="230.4"/></g>
<text transform="translate(481.0,17.6) scale(0.84,1.04) skewX(-0.0)" text-anchor="end" font-family="Liberation Sans" font-size="16" fill="#111">1.5</text>
<text transform="translate(481.1,53.9) scale(0.84,1.04) skewX(-1.1)" text-anchor="end" font-family="Liberation Sans" font-size="16" fill="#111">1.0</text>
<text transform="translate(481.2,90.3) scale(0.84,1.04) skewX(-2.2)" text-anchor="end" font-family="Liberation Sans" font-size="16" fill="#111">0.5</text>
<text transform="translate(481.4,126.6) scale(0.84,1.04) skewX(-3.3)" text-anchor="end" font-family="Liberation Sans" font-size="16" fill="#111">0.0</text>
<text transform="translate(481.5,162.9) scale(0.80,1.04) skewX(-4.4)" text-anchor="end" font-family="Liberation Sans" font-size="16" fill="#111">-0.5</text>
<text transform="translate(481.6,199.3) scale(0.80,1.04) skewX(-5.5)" text-anchor="end" font-family="Liberation Sans" font-size="16" fill="#111">-1.0</text>
<text transform="translate(481.8,235.6) scale(0.80,1.04) skewX(-6.6)" text-anchor="end" font-family="Liberation Sans" font-size="16" fill="#111">-1.5</text>
<text transform="translate(497.6,243.2) rotate(8)" text-anchor="middle" font-family="Liberation Sans" font-style="italic" font-size="12" fill="#111">-0.5</text>
<text transform="translate(526.8,247.2) rotate(8)" text-anchor="middle" font-family="Liberation Sans" font-style="italic" font-size="12" fill="#111">0.0</text>
<text transform="translate(555.7,251.4) rotate(8)" text-anchor="middle" font-family="Liberation Sans" font-style="italic" font-size="12" fill="#111">0.5</text>
<text transform="translate(499,254.5) rotate(8)" font-family="Liberation Sans" font-style="italic" font-size="12" fill="#111">k<tspan font-size="8.5" dy="1.5">x</tspan><tspan dy="-1.5"> (1/&#197;)</tspan></text>
<text transform="translate(616.0,251.5) rotate(-10.6)" text-anchor="middle" font-family="Liberation Sans" font-size="12.3" fill="#111">-0.5</text>
<text transform="translate(647.5,245.0) rotate(-10.6)" text-anchor="middle" font-family="Liberation Sans" font-size="12.3" fill="#111">0.0</text>
<text transform="translate(674.7,239.5) rotate(-10.6)" text-anchor="middle" font-family="Liberation Sans" font-size="12.3" fill="#111">0.5</text>
<text transform="translate(633.5,258.5) rotate(-10.6)" font-family="Liberation Sans" font-size="12.3" fill="#111">k<tspan font-size="8.5" dy="1.8">y</tspan><tspan dy="-1.8"> (1/&#197;)</tspan></text>
<text x="417" y="24.9" font-family="Liberation Sans" font-size="24" fill="#111">(b)</text>
<text transform="translate(455.1,175.7) rotate(-90)" font-family="Liberation Sans" font-size="17" fill="#111" textLength="108" lengthAdjust="spacingAndGlyphs">Energy (eV)</text>
<g stroke="#333" stroke-width="1"><line x1="294.7" y1="232" x2="294.7" y2="230.0"/><line x1="294.7" y1="22.5" x2="294.7" y2="24.5"/><line x1="309.1" y1="232" x2="309.1" y2="228.0"/><line x1="309.1" y1="22.5" x2="309.1" y2="26.5"/><line x1="323.5" y1="232" x2="323.5" y2="230.0"/><line x1="323.5" y1="22.5" x2="323.5" y2="24.5"/><line x1="337.9" y1="232" x2="337.9" y2="228.0"/><line x1="337.9" y1="22.5" x2="337.9" y2="26.5"/><line x1="352.3" y1="232" x2="352.3" y2="230.0"/><line x1="352.3" y1="22.5" x2="352.3" y2="24.5"/><line x1="366.7" y1="232" x2="366.7" y2="228.0"/><line x1="366.7" y1="22.5" x2="366.7" y2="26.5"/><line x1="381.1" y1="232" x2="381.1" y2="230.0"/><line x1="381.1" y1="22.5" x2="381.1" y2="24.5"/><line x1="395.5" y1="208.4" x2="392.0" y2="208.4"/><line x1="280.3" y1="208.4" x2="283.8" y2="208.4"/><line x1="395.5" y1="185.2" x2="393.3" y2="185.2"/><line x1="280.3" y1="185.2" x2="282.5" y2="185.2"/><line x1="395.5" y1="162.0" x2="392.0" y2="162.0"/><line x1="280.3" y1="162.0" x2="283.8" y2="162.0"/><line x1="395.5" y1="138.9" x2="393.3" y2="138.9"/><line x1="280.3" y1="138.9" x2="282.5" y2="138.9"/><line x1="395.5" y1="115.7" x2="392.0" y2="115.7"/><line x1="280.3" y1="115.7" x2="283.8" y2="115.7"/><line x1="395.5" y1="92.5" x2="393.3" y2="92.5"/><line x1="280.3" y1="92.5" x2="282.5" y2="92.5"/><line x1="395.5" y1="69.4" x2="392.0" y2="69.4"/><line x1="280.3" y1="69.4" x2="283.8" y2="69.4"/><line x1="395.5" y1="46.2" x2="393.3" y2="46.2"/><line x1="280.3" y1="46.2" x2="282.5" y2="46.2"/><line x1="395.5" y1="23.0" x2="392.0" y2="23.0"/><line x1="280.3" y1="23.0" x2="283.8" y2="23.0"/></g>
<text x="304.6" y="263.7" font-family="Liberation Sans" font-size="14.2" fill="#111" textLength="72.6" lengthAdjust="spacingAndGlyphs">DOS (1/eV)</text>
</svg>
</body></html>
